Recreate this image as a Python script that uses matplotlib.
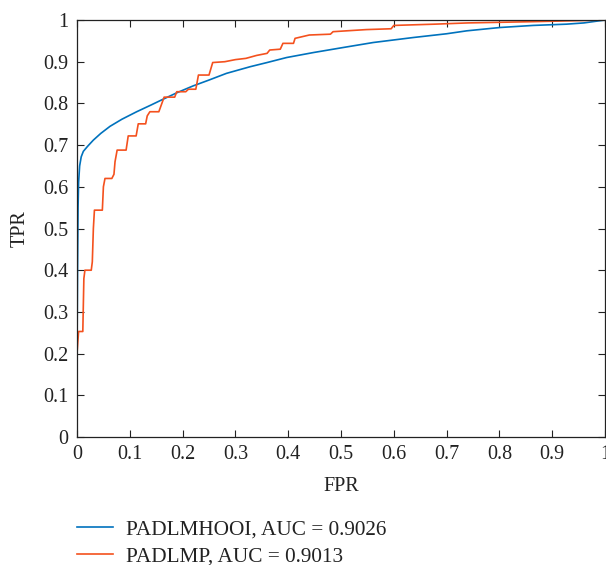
import matplotlib
matplotlib.use("Agg")
import matplotlib.pyplot as plt

# ROC curve of PADLMHOOI (false positive rate, true positive rate)
hooi_fpr = [0.0, 0.0, 0.001, 0.002, 0.003, 0.005, 0.008, 0.012, 0.02, 0.031,
            0.045, 0.0625, 0.085, 0.113, 0.14, 0.163, 0.19, 0.22, 0.25, 0.283,
            0.328, 0.36, 0.397, 0.448, 0.504, 0.561, 0.637, 0.70, 0.738, 0.801,
            0.864, 0.927, 0.96, 1.0]
hooi_tpr = [0.0, 0.2, 0.4, 0.55, 0.61, 0.65, 0.672, 0.685, 0.697, 0.712,
            0.728, 0.745, 0.762, 0.78, 0.796, 0.81, 0.826, 0.842, 0.856, 0.872,
            0.888, 0.898, 0.910, 0.922, 0.934, 0.946, 0.958, 0.967, 0.974, 0.982,
            0.987, 0.990, 0.993, 1.0]

# ROC curve of PADLMP (staircase)
padlmp_fpr = [0.0, 0.0, 0.003, 0.011, 0.013, 0.015, 0.027, 0.029, 0.031, 0.033,
              0.048, 0.050, 0.053, 0.066, 0.070, 0.072, 0.076, 0.093, 0.097, 0.112,
              0.116, 0.130, 0.133, 0.138, 0.155, 0.165, 0.185, 0.189, 0.206, 0.211,
              0.225, 0.230, 0.250, 0.257, 0.28, 0.30, 0.32, 0.34, 0.36, 0.365,
              0.385, 0.39, 0.41, 0.413, 0.44, 0.48, 0.485, 0.548, 0.595, 0.60,
              0.677, 0.74, 0.864, 1.0]
padlmp_tpr = [0.0, 0.2, 0.253, 0.253, 0.38, 0.40, 0.40, 0.42, 0.50, 0.544,
              0.544, 0.60, 0.62, 0.62, 0.63, 0.66, 0.688, 0.688, 0.722, 0.722,
              0.751, 0.751, 0.77, 0.780, 0.780, 0.815, 0.815, 0.828, 0.828, 0.834,
              0.834, 0.868, 0.868, 0.898, 0.900, 0.905, 0.908, 0.915, 0.920, 0.928,
              0.930, 0.944, 0.944, 0.956, 0.964, 0.966, 0.972, 0.977, 0.979, 0.987,
              0.990, 0.993, 0.996, 1.0]

labels = ["PADLMHOOI, AUC = 0.9026", "PADLMP, AUC = 0.9013"]
colors = ["#0072BD", "#F4511E"]
ticks = [0, 0.1, 0.2, 0.3, 0.4, 0.5, 0.6, 0.7, 0.8, 0.9, 1]
tick_labels = ["0", "0.1", "0.2", "0.3", "0.4", "0.5", "0.6", "0.7", "0.8", "0.9", "1"]

plt.rcParams["font.family"] = ["Liberation Serif", "DejaVu Serif"]
FS = 14.5
LEG_FS = 15.3

W, H = 606, 565
fig = plt.figure(figsize=(W / 100, H / 100), dpi=100)
ax = fig.add_axes([77 / W, (H - 437) / H, (605 - 77) / W, (437 - 20) / H])

ax.plot(hooi_fpr, hooi_tpr, color=colors[0], lw=1.2, label=labels[0])
ax.plot(padlmp_fpr, padlmp_tpr, color=colors[1], lw=1.2, label=labels[1])

ax.set_xlim(0, 1)
ax.set_ylim(0, 1)
ax.set_xticks(ticks)
ax.set_xticklabels(tick_labels)
ax.set_yticks(ticks)
ax.set_yticklabels(tick_labels)
ax.tick_params(direction="in", length=5, width=0.8, top=True, right=True,
               labelsize=FS, pad=6, colors="#222222")
for s in ax.spines.values():
    s.set_linewidth(0.9)
    s.set_color("#222222")

ax.set_xlabel("FPR", fontsize=FS, color="#222222", labelpad=9)
ax.set_ylabel("TPR", fontsize=FS, color="#222222", labelpad=10)

# 36 px handle, 13 px gap at LEG_FS points (1 pt = 100/72 px)
em = LEG_FS * 100 / 72
fig.legend(loc="center left", bbox_to_anchor=(58 / W, 1 - 543 / H),
           frameon=False, fontsize=LEG_FS, handlelength=36 / em,
           handletextpad=13 / em, labelspacing=0.3, labelcolor="#222222")

fig.savefig("out.png", dpi=100)
